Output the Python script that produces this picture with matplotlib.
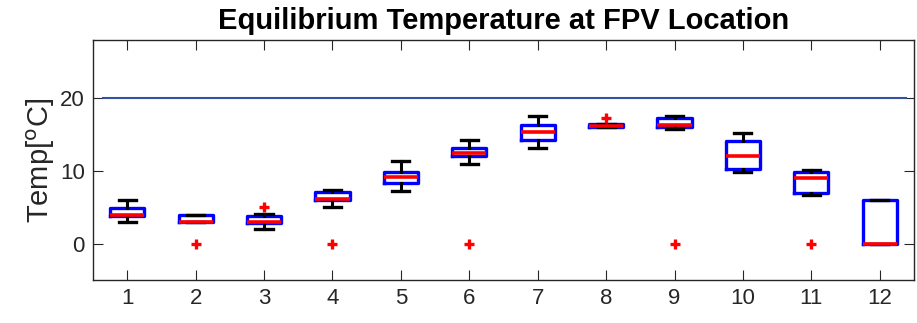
import matplotlib as mpl

mpl.use("Agg")
import matplotlib.pyplot as plt

# values (deg C)
months = list(range(1, 13))
q1 = [3.85, 3.0, 2.9, 6.0, 8.3, 12.1, 14.2, 16.1, 16.0, 10.2, 6.9, 0.0]
medians = [4.0, 3.0, 3.0, 6.2, 9.1, 12.4, 15.3, 16.2, 16.25, 12.0, 9.0, 0.0]
q3 = [4.9, 3.95, 3.8, 7.1, 9.8, 13.2, 16.3, 16.4, 17.3, 14.15, 9.8, 6.0]
whisker_lo = [3.0, 3.0, 2.0, 5.0, 7.2, 11.0, 13.1, 16.0, 15.8, 9.85, 6.75, 0.0]
whisker_hi = [6.0, 3.95, 4.1, 7.35, 11.3, 14.3, 17.5, 16.5, 17.5, 15.15, 10.1, 6.0]
outliers = [[], [0.0], [5.0], [0.0], [], [0.0], [], [17.3], [0.0], [], [0.0], []]

limit_temp = 20.0
limit_span = (0.65, 12.38)

mpl.rcParams.update(
    {
        "font.family": ["Liberation Sans", "DejaVu Sans"],
        "axes.linewidth": 1.0,
        "axes.edgecolor": "#262626",
        "xtick.color": "#262626",
        "ytick.color": "#262626",
        "xtick.direction": "in",
        "ytick.direction": "in",
        "xtick.top": True,
        "ytick.right": True,
        "xtick.major.size": 7,
        "ytick.major.size": 7,
        "xtick.labelsize": 16,
        "ytick.labelsize": 16,
    }
)

fig = plt.figure(figsize=(9.17, 3.23), dpi=100)
ax = fig.add_axes([0.1014, 0.1331, 0.8953, 0.7431])

stats = []
for i in range(len(months)):
    stats.append(
        {
            "med": medians[i],
            "q1": q1[i],
            "q3": q3[i],
            "whislo": whisker_lo[i],
            "whishi": whisker_hi[i],
            "fliers": outliers[i],
        }
    )

ax.bxp(
    stats,
    positions=months,
    widths=0.5,
    capwidths=0.25,
    boxprops={"color": "#0000ff", "linewidth": 2.4},
    medianprops={"color": "#ff0000", "linewidth": 2.6},
    whiskerprops={"color": "black", "linewidth": 2.2},
    capprops={"color": "black", "linewidth": 2.4},
    flierprops={
        "marker": "+",
        "markeredgecolor": "#ff0000",
        "markersize": 7,
        "markeredgewidth": 2.4,
        "linestyle": "none",
    },
)

ax.plot(limit_span, (limit_temp, limit_temp), color="#34529f", linewidth=1.5)

ax.set_xlim(0.5, 12.5)
ax.set_ylim(-5, 28)
ax.set_xticks(months)
ax.set_xticklabels([str(m) for m in months])
ax.set_yticks([0, 10, 20])
ax.tick_params(axis="both", labelcolor="#262626", pad=6)
ax.set_ylabel(r"Temp[$^{\mathrm{o}}$C]", fontsize=21, color="#262626", labelpad=2)
ax.set_title(
    "Equilibrium Temperature at FPV Location",
    fontsize=21,
    fontweight="bold",
    pad=8,
)

fig.savefig("out.png", dpi=100)
